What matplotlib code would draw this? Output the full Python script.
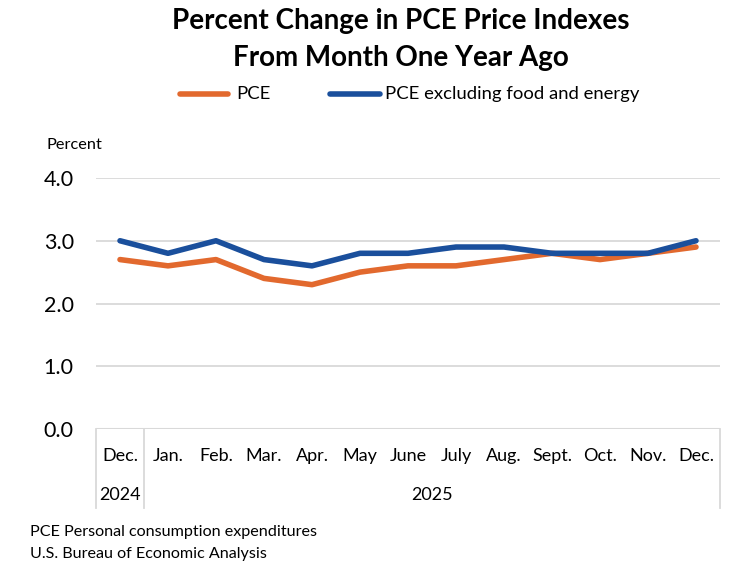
import numpy as np
import matplotlib.pyplot as plt
from matplotlib.lines import Line2D

plt.rcParams['font.family'] = ['Lato', 'DejaVu Sans']

# data
months = ['Dec.', 'Jan.', 'Feb.', 'Mar.', 'Apr.', 'May', 'June', 'July',
          'Aug.', 'Sept.', 'Oct.', 'Nov.', 'Dec.']
years = ['2024', '2025']
pce = [2.7, 2.6, 2.7, 2.4, 2.3, 2.5, 2.6, 2.6, 2.7, 2.8, 2.7, 2.8, 2.9]
core = [3.0, 2.8, 3.0, 2.7, 2.6, 2.8, 2.8, 2.9, 2.9, 2.8, 2.8, 2.8, 3.0]
yticks = [0.0, 1.0, 2.0, 3.0, 4.0]

orange = '#E2692E'
blue = '#1A4F9C'
grid_c = '#D9D9D9'

fig = plt.figure(figsize=(7.5, 5.8), dpi=100)
ax = fig.add_axes([96 / 750, 1 - 429 / 580, 624 / 750, 251 / 580])

x = np.arange(len(months))
ax.plot(x, pce, color=orange, lw=4, solid_capstyle='round', zorder=3)
ax.plot(x, core, color=blue, lw=4, solid_capstyle='round', zorder=4)

ax.set_xlim(-0.5, len(months) - 0.5)
ax.set_ylim(0, 4)
ax.set_yticks(yticks)
ax.set_yticklabels([f'{v:.1f}' for v in yticks], fontsize=15.5)
ax.tick_params(axis='y', length=0, pad=16)
ax.set_xticks([])
for v in yticks[1:]:
    ax.axhline(v, color=grid_c, lw=1.3, zorder=1)
for s in ax.spines.values():
    s.set_visible(False)
ax.axhline(0, color=grid_c, lw=1.5, zorder=2)

# category box under the axis
trans = ax.get_xaxis_transform()
box_bottom = -79 / 251
for xv in [-0.5, 0.5, len(months) - 0.5]:
    ax.add_line(Line2D([xv, xv], [0, box_bottom], transform=trans,
                       color=grid_c, lw=1.3, clip_on=False))
for i, m in enumerate(months):
    ax.text(i, -27 / 251, m, transform=trans, ha='center', va='center',
            fontsize=13)
ax.text(0, -66 / 251, years[0], transform=trans, ha='center', va='center',
        fontsize=13)
ax.text((1 + len(months) - 1) / 2, -66 / 251, years[1], transform=trans,
        ha='center', va='center', fontsize=13)

# titles and notes
fig.text(401 / 750, 1 - 21 / 580, 'Percent Change in PCE Price Indexes',
         ha='center', va='center', fontsize=20, fontweight='bold')
fig.text(401 / 750, 1 - 58 / 580, 'From Month One Year Ago',
         ha='center', va='center', fontsize=20, fontweight='bold')
fig.text(47 / 750, 1 - 145 / 580, 'Percent', ha='left', va='center',
         fontsize=11.8)
fig.text(30 / 750, 1 - 532 / 580, 'PCE Personal consumption expenditures',
         ha='left', va='center', fontsize=11.6)
fig.text(30 / 750, 1 - 554 / 580, 'U.S. Bureau of Economic Analysis',
         ha='left', va='center', fontsize=11.6)

# legend
ly = 1 - 94 / 580
fig.add_artist(Line2D([180 / 750, 228 / 750], [ly, ly], color=orange, lw=4,
                      solid_capstyle='round'))
fig.text(236 / 750, ly, 'PCE', ha='left', va='center', fontsize=13.3)
fig.add_artist(Line2D([330 / 750, 380 / 750], [ly, ly], color=blue, lw=4,
                      solid_capstyle='round'))
fig.text(385 / 750, ly, 'PCE excluding food and energy', ha='left',
         va='center', fontsize=13.3)

fig.savefig('out.png', dpi=100)
